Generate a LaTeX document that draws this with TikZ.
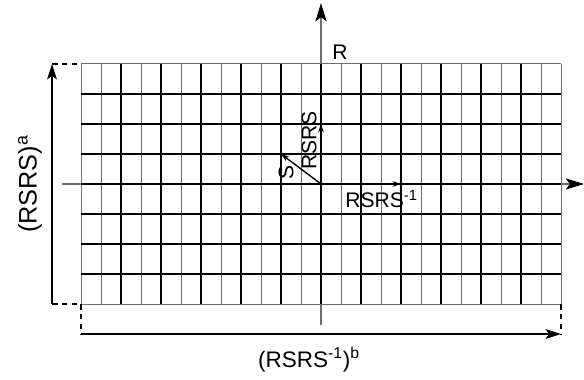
\documentclass[tikz,border=0pt]{standalone}
\usepackage{fontspec}
\setmainfont{Liberation Sans}
\usepackage{xcolor}
\usetikzlibrary{arrows.meta}
\definecolor{gridG}{HTML}{6E6E6E}

\begin{document}
\begin{tikzpicture}[x=0.5cm, y=0.75cm, font=\fontsize{15}{17}\selectfont,
    thinline/.style={draw=gridG, line width=0.7pt},
    thickline/.style={draw=black, line width=1.6pt},
    axisline/.style={draw=gridG, line width=0.9pt, -{Stealth[length=13pt, width=8pt, inset=3pt, color=black]}},
    dimline/.style={draw=black, line width=0.8pt, -{Stealth[length=11pt, width=7pt, inset=2.5pt]}},
    extline/.style={draw=black, line width=0.8pt, dash pattern=on 4pt off 3pt},
    vec/.style={draw=black, line width=1pt, -{Stealth[length=6pt, width=4pt]}}]
  \path[use as bounding box] (-16.05,-6.533) rectangle (13.15,6.133);

  % corners and ends
  \coordinate (O) at (0,0);
  \coordinate (gSW) at (-12,-4);
  \coordinate (gNW) at (-12,4);
  \coordinate (gSE) at (12,-4);
  \coordinate (xStart) at (-12.95,0);
  \coordinate (xEnd) at (13.15,0);
  \coordinate (yStart) at (0,-4.7);
  \coordinate (yEnd) at (0,6.03);

  % axes (under the grid)
  \draw[axisline] (xStart) -- (xEnd);
  \draw[axisline] (yStart) -- (yEnd);

  % thin cell lines
  \foreach \x in {-12,...,12}
    \draw[thinline] (\x,-4) -- (\x,4);
  \draw[thinline] (gSW) -- (gSE);
  \draw[thinline] (gNW) -- (12,4);
  % heavy lines: every second column, every inner row
  \foreach \x in {-10,-8,...,10}
    \draw[thickline] (\x,-4) -- (\x,4);
  \foreach \y in {-3,...,3}
    \draw[thickline] (-12,\y) -- (12,\y);

  % dimension arrows
  \coordinate (aLow) at (-13.45,-4);
  \coordinate (aHigh) at (-13.45,4);
  \coordinate (bLeft) at (-12,-5);
  \coordinate (bRight) at (12,-5);
  \draw[extline] (aLow) -- (gSW);
  \draw[extline] (aHigh) -- (gNW);
  \draw[extline] (gSW) -- (bLeft);
  \draw[extline] (gSE) -- (bRight);
  \draw[dimline] (aLow) -- (aHigh);
  \draw[dimline] (bLeft) -- (bRight);

  \node[rotate=90, font=\fontsize{18}{20}\selectfont] (aLab) at (-14.55,0)
    {(RSRS)\textsuperscript{a}};
  \node[font=\fontsize{16}{18}\selectfont] (bLab) at (-0.6,-5.85)
    {(RSRS\textsuperscript{-1})\textsuperscript{b}};

  % basis vectors
  \coordinate (rsrsTip) at (0,2);
  \coordinate (sTip) at (-2,1);
  \coordinate (rsrsInvTip) at (4,0);
  \draw[vec] (O) -- (rsrsTip);
  \draw[vec] (O) -- (sTip);
  \draw[vec] (O) -- (rsrsInvTip);

  \node (rLab) at (0.95,4.38) {R};
  \node[rotate=90] (rsrsLab) at (-0.6,1.45) {RSRS};
  \node[rotate=90] (sLab) at (-1.75,0.4) {S};
  \node[anchor=west, inner sep=0pt] (rsrsInvLab) at (1.2,-0.5) {RSRS\textsuperscript{-1}};
\end{tikzpicture}
\end{document}
